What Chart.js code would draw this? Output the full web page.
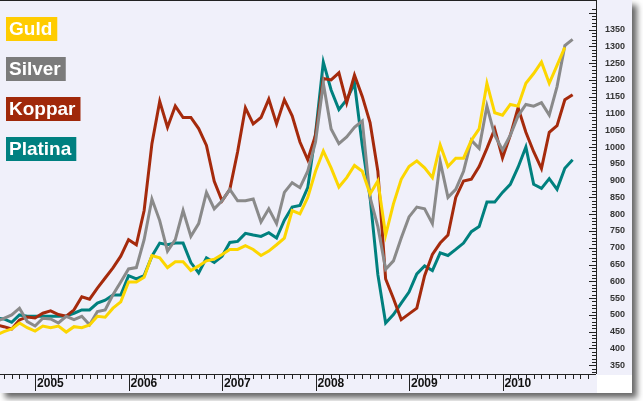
<!DOCTYPE html>
<html>
<head>
<meta charset="utf-8">
<script src="https://cdn.jsdelivr.net/npm/chart.js@4"></script>
<style>
  body { margin: 0; background: #fff; }
</style>
</head>
<body>
<canvas id="metals" width="643" height="401"></canvas>
<script>
// month index counted from Jan 2005; the series start Aug 2004 and run to Oct 2010
const FIRST_MONTH = -5;
const years = ['2005', '2006', '2007', '2008', '2009', '2010'];
const yTicks = [350, 400, 450, 500, 550, 600, 650, 700, 750, 800, 850, 900, 950,
                1000, 1050, 1100, 1150, 1200, 1250, 1300, 1350];

const guld = [
    440, 450, 458, 476, 462,
    452, 467, 462, 467, 449, 465, 462, 470, 496, 493, 520, 539,
    598, 598, 612, 677, 670, 641, 658, 658, 632, 646, 661, 666,
    680, 695, 695, 706, 695, 677, 690, 709, 729, 811, 801, 850,
    928, 988, 938, 881, 909, 945, 928, 860, 899, 738, 831, 904,
    942, 959, 938, 909, 1006, 942, 967, 967, 1020, 1054, 1190, 1102,
    1095, 1127, 1122, 1190, 1219, 1253, 1190, 1243, 1297, null
];
const silver = [
    480, 490, 500, 520, 480,
    467, 490, 488, 476, 496, 486, 496, 471, 510, 515, 560, 598,
    637, 641, 724, 845, 781, 690, 724, 811, 734, 772, 865, 816,
    840, 874, 840, 840, 845, 777, 816, 772, 865, 894, 879, 928,
    1015, 1190, 1054, 1010, 1030, 1059, 1078, 850, 763, 636, 661, 729,
    792, 821, 816, 772, 957, 850, 874, 928, 1020, 996, 1122, 1035,
    991, 1035, 1093, 1127, 1122, 1132, 1095, 1180, 1302, 1321
];
const koppar = [
    470, 465, 458, 485, 494,
    491, 505, 512, 501, 496, 515, 554, 547, 580, 610, 640, 675,
    724, 709, 811, 1010, 1136, 1059, 1122, 1088, 1088, 1055, 1005, 898,
    840, 874, 986, 1117, 1069, 1088, 1143, 1069, 1141, 1093, 1015, 962,
    1035, 1204, 1200, 1221, 1132, 1214, 1151, 1073, 928, 607, 549, 486,
    503, 520, 617, 680, 714, 738, 850, 899, 904, 942, 996, 1054,
    968, 1035, 1117, 1044, 986, 936, 1044, 1064, 1141, 1156
];
const platina = [
    490, 488, 478, 500, 496,
    496, 496, 496, 496, 497, 505, 515, 515, 535, 544, 559, 559,
    617, 607, 617, 675, 714, 709, 714, 714, 656, 625, 670, 656,
    675, 716, 719, 743, 738, 734, 745, 729, 782, 821, 826, 879,
    1040, 1253, 1170, 1112, 1141, 1190, 1005, 850, 620, 476, 501, 535,
    568, 622, 646, 632, 685, 677, 695, 714, 748, 763, 836, 836,
    865, 889, 940, 1000, 889, 877, 906, 874, 937, 962
];

const toPoints = arr => arr.map((v, i) => ({ x: FIRST_MONTH + i, y: v }));

// panel, axis lines, tick marks and the coloured name boxes
const frame = {
    id: 'frame',
    beforeDraw(chart) {
        const { ctx, chartArea: a } = chart;
        ctx.save();
        ctx.shadowColor = 'rgba(0,0,0,0.6)';
        ctx.shadowBlur = 6;
        ctx.shadowOffsetX = 5;
        ctx.shadowOffsetY = 5;
        ctx.fillStyle = '#f0f0fa';
        ctx.fillRect(0, 0, 632, 393);
        ctx.restore();
        ctx.fillStyle = '#fff';
        ctx.fillRect(a.right + 1, a.bottom + 1, 632 - a.right - 1, 393 - a.bottom - 1);
    },
    afterDraw(chart) {
        const { ctx, chartArea: a, scales } = chart;
        const xs = scales.x, ys = scales.y;
        ctx.save();
        ctx.strokeStyle = '#222';
        ctx.lineWidth = 1;
        ctx.beginPath();
        ctx.moveTo(0, 0.5); ctx.lineTo(a.right, 0.5);
        ctx.moveTo(a.right + 0.5, 0); ctx.lineTo(a.right + 0.5, a.bottom);
        ctx.moveTo(0, a.bottom + 0.5); ctx.lineTo(a.right, a.bottom + 0.5);
        for (let m = -4; m <= 71; m++) {
            const x = Math.round(xs.getPixelForValue(m)) + 0.5;
            ctx.moveTo(x, a.bottom);
            ctx.lineTo(x, a.bottom + (m % 12 === 0 ? 17 : 5));
        }
        for (let v = 330; v <= 1410; v += 10) {
            const y = Math.round(ys.getPixelForValue(v)) + 0.5;
            ctx.moveTo(a.right - (v % 50 === 0 ? 7 : 4), y);
            ctx.lineTo(a.right, y);
        }
        ctx.stroke();

        ctx.font = 'bold 19px Arial';
        ctx.textBaseline = 'middle';
        chart.data.datasets.forEach((ds, i) => {
            const top = 17 + i * 40;
            const w = ctx.measureText(ds.label).width;
            ctx.fillStyle = ds.backgroundColor;
            ctx.fillRect(6, top, w + 8, 24);
            ctx.fillStyle = '#fff';
            ctx.fillText(ds.label, 9, top + 13);
        });
        ctx.restore();
    }
};

new Chart(document.getElementById('metals'), {
    type: 'line',
    data: {
        datasets: [
            { label: 'Guld', data: toPoints(guld), borderColor: '#fcd600', backgroundColor: '#ffcc00' },
            { label: 'Silver', data: toPoints(silver), borderColor: '#8a8a8a', backgroundColor: '#7b7b7b' },
            { label: 'Koppar', data: toPoints(koppar), borderColor: '#a52a0c', backgroundColor: '#a0280a' },
            { label: 'Platina', data: toPoints(platina), borderColor: '#00807e', backgroundColor: '#008080' }
        ]
    },
    options: {
        responsive: false,
        animation: false,
        layout: { padding: { right: 18 } },
        elements: {
            point: { radius: 0 },
            line: { borderWidth: 3, tension: 0, fill: false }
        },
        plugins: {
            legend: { display: false },
            tooltip: { enabled: false }
        },
        scales: {
            x: {
                type: 'linear',
                min: -4.5,
                max: 72,
                grid: { display: false, drawTicks: false },
                border: { display: false },
                afterBuildTicks: s => { s.ticks = years.map((y, i) => ({ value: i * 12 })); },
                afterFit: s => { s.height = 27; },
                ticks: {
                    align: 'start',
                    labelOffset: 2,
                    padding: 2,
                    maxRotation: 0,
                    autoSkip: false,
                    color: '#111',
                    font: { family: 'Arial', size: 12, weight: 'bold' },
                    callback: (v, i) => years[i]
                }
            },
            y: {
                position: 'right',
                min: 324,
                max: 1413,
                grid: { display: false, drawTicks: false },
                border: { display: false },
                afterBuildTicks: s => { s.ticks = yTicks.map(v => ({ value: v })); },
                afterFit: s => { s.width = 29; },
                ticks: {
                    crossAlign: 'far',
                    autoSkip: false,
                    color: '#333',
                    font: { family: 'Arial', size: 9, weight: 'bold' },
                    callback: v => v
                }
            }
        }
    },
    plugins: [frame]
});
</script>
</body>
</html>
